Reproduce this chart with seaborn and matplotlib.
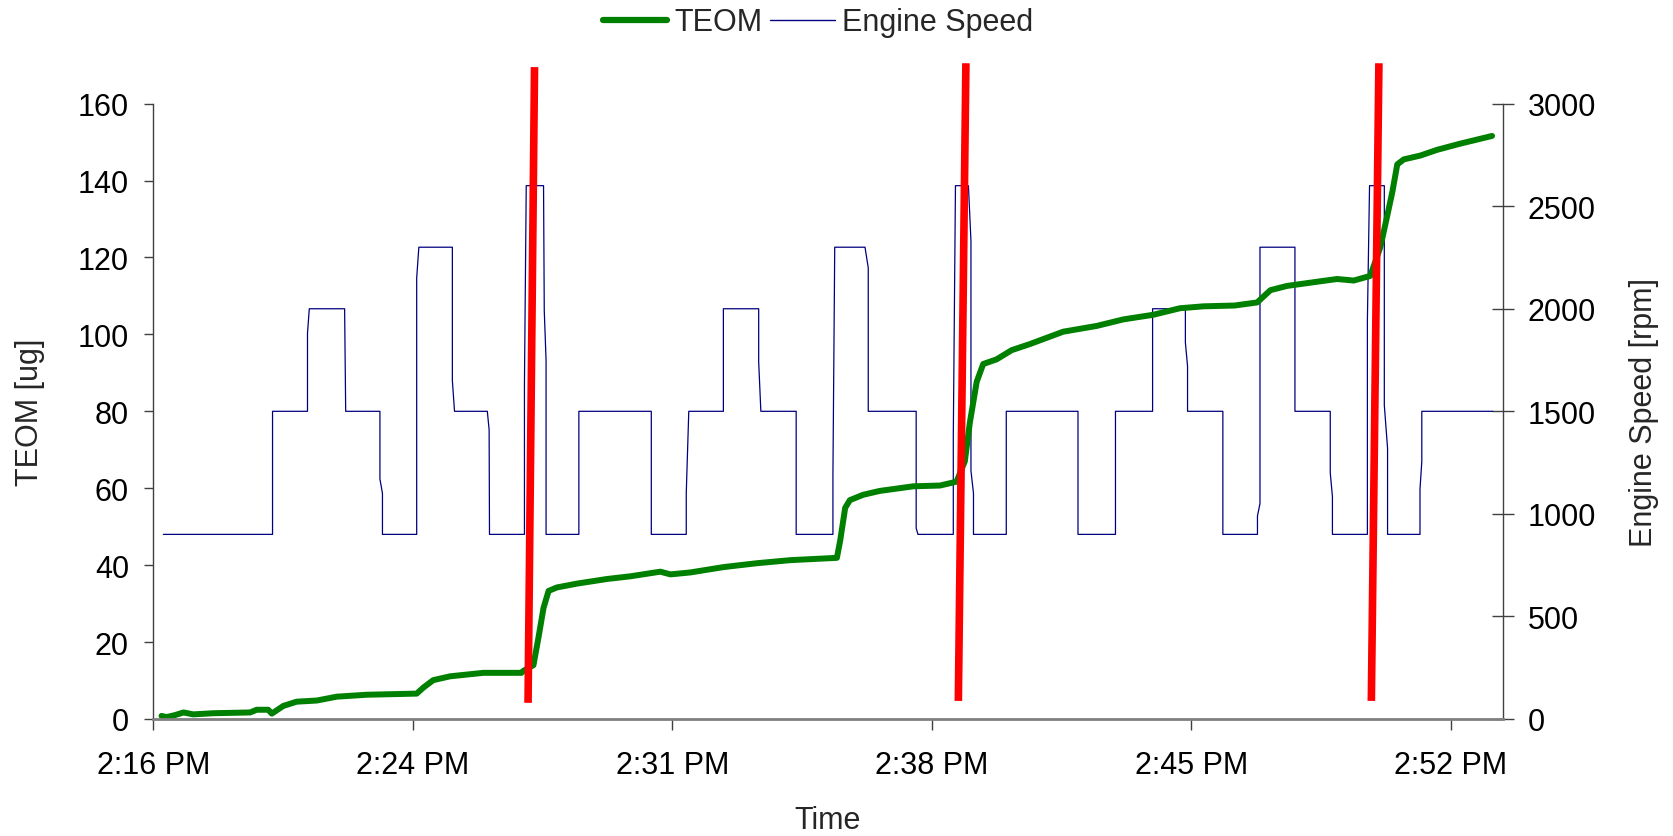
import matplotlib
matplotlib.use("Agg")
import matplotlib.pyplot as plt
import seaborn as sns
from matplotlib.lines import Line2D

# ---- data (time in minutes after 2:00 PM) ----
teom_time = [17.03, 17.17, 17.40, 17.64, 17.91, 18.47, 19.49, 19.67, 19.99, 20.09,
             20.41, 20.78, 21.34, 21.89, 22.72, 24.11, 24.30, 24.57, 25.04, 25.96,
             27.02, 27.07, 27.35, 27.49, 27.63, 27.77, 28.00, 28.56, 29.39, 30.04,
             30.87, 31.15, 31.70, 32.63, 33.55, 34.48, 35.77, 35.86, 36.00, 36.13,
             36.50, 36.96, 37.89, 38.63, 39.09, 39.32, 39.46, 39.65, 39.83, 40.20,
             40.62, 41.13, 42.05, 42.98, 43.72, 44.55, 45.29, 45.95, 46.80, 47.43,
             47.80, 48.26, 49.18, 49.65, 50.11, 50.57, 50.85, 51.04, 51.18, 51.32,
             51.50, 51.96, 52.43, 53.07, 53.95]
teom_ug = [0.8, 0.5, 1.0, 1.7, 1.2, 1.5, 1.7, 2.4, 2.4, 1.4,
           3.4, 4.5, 4.8, 5.8, 6.3, 6.6, 8.2, 10.1, 11.1, 12.0,
           12.0, 12.5, 14.0, 21.2, 28.9, 33.3, 34.2, 35.2, 36.4, 37.1,
           38.3, 37.6, 38.1, 39.5, 40.5, 41.3, 41.9, 46.3, 54.9, 56.9,
           58.3, 59.3, 60.5, 60.7, 61.7, 67.0, 77.1, 87.7, 92.3, 93.5,
           95.9, 97.5, 100.7, 102.2, 103.9, 105.1, 106.8, 107.3, 107.5, 108.3,
           111.5, 112.6, 113.8, 114.4, 114.0, 115.2, 122.7, 130.8, 136.9, 144.2,
           145.5, 146.5, 148.0, 149.6, 151.6]

speed_time = [17.08, 20.11, 20.11, 21.08, 21.08, 21.13, 22.11, 22.14, 23.09, 23.09,
              23.16, 23.16, 24.11, 24.11, 24.17, 25.10, 25.10, 25.16, 26.07, 26.12,
              26.13, 27.10, 27.10, 27.15, 27.63, 27.65, 27.70, 27.70, 28.61, 28.61,
              30.62, 30.62, 31.59, 31.59, 31.66, 32.62, 32.62, 33.60, 33.60, 33.66,
              34.64, 34.64, 35.66, 35.66, 35.71, 36.55, 36.64, 36.64, 37.97, 37.97,
              38.02, 39.00, 39.00, 39.06, 39.42, 39.49, 39.49, 39.56, 39.56, 40.47,
              40.47, 42.46, 42.46, 43.50, 43.50, 44.53, 44.53, 45.44, 45.44, 45.50,
              45.50, 46.48, 46.48, 47.44, 47.44, 47.51, 47.51, 48.48, 48.48, 49.46,
              49.46, 49.52, 49.52, 50.49, 50.49, 50.55, 50.96, 50.96, 51.05, 51.05,
              51.95, 51.95, 52.00, 52.00, 53.97]
speed_rpm = [900, 900, 1500, 1500, 1880, 2000, 2000, 1500, 1500, 1170,
             1100, 900, 900, 2150, 2300, 2300, 1650, 1500, 1500, 1410,
             900, 900, 1630, 2600, 2600, 1990, 1750, 900, 900, 1500,
             1500, 900, 900, 1100, 1500, 1500, 2000, 2000, 1740, 1500,
             1500, 900, 900, 1190, 2300, 2300, 2200, 1500, 1500, 930,
             900, 900, 1380, 2600, 2600, 2330, 1210, 1100, 900, 900,
             1500, 1500, 900, 900, 1500, 1500, 2000, 2000, 1835, 1720,
             1500, 1500, 900, 900, 990, 1050, 2300, 2300, 1500, 1500,
             1200, 1085, 900, 900, 1940, 2600, 2600, 1530, 1320, 900,
             900, 1120, 1255, 1500, 1500]

marker_time_top = [27.38, 39.35, 50.81]
marker_time_bottom = [27.20, 39.14, 50.60]
marker_ug_top = [169.5, 170.5, 170.5]
marker_ug_bottom = [4.2, 4.7, 4.7]

x_tick_pos = [16.8, 24.0, 31.2, 38.4, 45.6, 52.8]
x_tick_labels = ["2:16 PM", "2:24 PM", "2:31 PM", "2:38 PM", "2:45 PM", "2:52 PM"]
teom_ticks = [0, 20, 40, 60, 80, 100, 120, 140, 160]
rpm_ticks = [0, 500, 1000, 1500, 2000, 2500, 3000]

# ---- style ----
sns.set_style("white")
plt.rcParams["font.family"] = ["Liberation Sans", "DejaVu Sans"]
FS = 22

fig = plt.figure(figsize=(16.73, 8.37), dpi=100)
ax = fig.add_axes([0.0916, 0.1398, 0.8065, 0.7352])
ax2 = ax.twinx()
ax.set_zorder(ax2.get_zorder() + 1)
ax.patch.set_visible(False)

green = "#008000"
navy = "#000080"

sns.lineplot(x=speed_time, y=speed_rpm, ax=ax2, color=navy, linewidth=0.9,
             estimator=None, sort=False, legend=False)
sns.lineplot(x=teom_time, y=teom_ug, ax=ax, color=green, linewidth=4.3,
             estimator=None, sort=False, legend=False, solid_capstyle="round")

for tt, tb, yt, yb in zip(marker_time_top, marker_time_bottom,
                          marker_ug_top, marker_ug_bottom):
    ax.plot([tt, tb], [yt, yb], color="#ff0000",
            linewidth=5.5, clip_on=False, solid_capstyle="butt", zorder=5)

ax.set_xlim(16.8, 54.24)
ax.set_ylim(0, 160)
ax2.set_ylim(0, 3000)
ax.set_xticks(x_tick_pos)
ax.set_xticklabels(x_tick_labels)
ax.set_yticks(teom_ticks)
ax2.set_yticks(rpm_ticks)

ax.tick_params(axis="x", direction="out", length=8, width=1, pad=14,
               labelsize=FS, color="#404040", labelcolor="black", bottom=True)
ax.tick_params(axis="y", direction="out", length=6.5, width=1, pad=11,
               labelsize=FS, color="#404040", labelcolor="black", left=True)
ax2.tick_params(axis="y", direction="inout", length=16, width=1, pad=10,
                labelsize=FS, color="#404040", labelcolor="black", right=True)

for a in (ax, ax2):
    a.spines["top"].set_visible(False)
    a.grid(False)
ax.spines["right"].set_visible(False)
ax2.spines["left"].set_visible(False)
ax2.spines["bottom"].set_visible(False)
ax.spines["bottom"].set_color("#808080")
ax.spines["bottom"].set_linewidth(2)
ax.spines["left"].set_color("#404040")
ax.spines["left"].set_linewidth(1)
ax2.spines["right"].set_color("#404040")
ax2.spines["right"].set_linewidth(1)

ax.set_xlabel("Time", fontsize=FS)
ax.set_ylabel("TEOM [ug]", fontsize=FS)
ax2.set_ylabel("Engine Speed [rpm]", fontsize=FS)
ax.xaxis.set_label_coords(0.5, -0.14)
ax.yaxis.set_label_coords(-0.080, 0.5)
ax2.yaxis.set_label_coords(1.094, 0.5)

handles = [Line2D([], [], color=green, linewidth=4.5),
           Line2D([], [], color=navy, linewidth=1)]
fig.legend(handles=handles, labels=["TEOM", "Engine Speed"], loc="center",
           bbox_to_anchor=(0.489, 0.972), ncol=2, frameon=False, fontsize=FS,
           handlelength=2.1, handletextpad=0.25, columnspacing=0.25,
           borderaxespad=0)

fig.savefig("out.png", dpi=100)
